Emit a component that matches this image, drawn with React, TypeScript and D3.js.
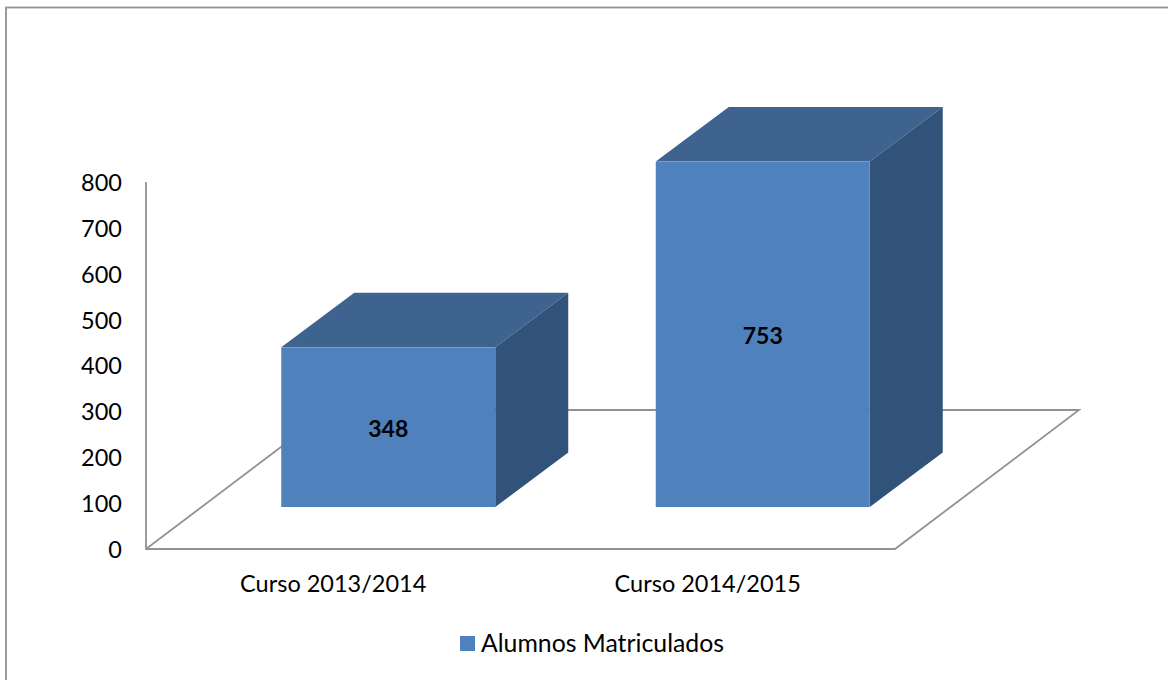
import React from "react";
import * as d3 from "d3";

const categories = ["Curso 2013/2014", "Curso 2014/2015"];
const values = [348, 753];
const ticks = [0, 100, 200, 300, 400, 500, 600, 700, 800];
const seriesName = "Alumnos Matriculados";

const W = 1168;
const H = 680;
const FONT = "Lato, sans-serif";
const AXIS = "#929292";
const DEPTH_X = 73;
const DEPTH_Y = 54.5;
const BAR_W = 214;

export default function App() {
  const yAxis = d3.scaleLinear().domain([0, 800]).range([549, 182]);
  const yFront = d3.scaleLinear().domain([0, 800]).range([507, 140]);
  const xBand = d3.scaleBand<string>().domain(categories).range([146, 895]);

  const bars = categories.map((c, i) => {
    const center = (xBand(c) as number) + xBand.bandwidth() / 2 + 55;
    const x0 = center - BAR_W / 2;
    return { c, v: values[i], x0, x1: x0 + BAR_W, y0: yFront(values[i]), y1: yFront(0) };
  });
  const pts = (p: number[][]) => p.map((q) => q.join(",")).join(" ");

  return (
    <svg
      width={W}
      height={H}
      viewBox={`0 0 ${W} ${H}`}
      style={{ position: "absolute", left: 0, top: 0, background: "#fff" }}
      fontFamily={FONT}
    >
      <rect x={6} y={7.5} width={W + 20} height={H + 20} fill="#fff" stroke={AXIS} strokeWidth={1.8} />

      {/* floor and wall */}
      <polyline
        points={pts([[146, 182], [146, 549], [895, 549], [1079, 410], [330, 410], [146, 549]])}
        fill="none"
        stroke={AXIS}
        strokeWidth={1.8}
      />

      {ticks.map((t) => (
        <text key={t} x={122} y={yAxis(t) + 0.5} dy="0.36em" textAnchor="end" fontSize={23.5} fill="#000">
          {t}
        </text>
      ))}

      {bars.map((b) => (
        <g key={b.c}>
          <polygon
            points={pts([[b.x0, b.y0], [b.x0 + DEPTH_X, b.y0 - DEPTH_Y], [b.x1 + DEPTH_X, b.y0 - DEPTH_Y], [b.x1, b.y0]])}
            fill="#3e638f"
          />
          <polygon
            points={pts([[b.x1, b.y0], [b.x1 + DEPTH_X, b.y0 - DEPTH_Y], [b.x1 + DEPTH_X, b.y1 - DEPTH_Y], [b.x1, b.y1]])}
            fill="#325379"
          />
          <rect x={b.x0} y={b.y0} width={b.x1 - b.x0} height={b.y1 - b.y0} fill="#4f81bd" />
          <text
            x={(b.x0 + b.x1) / 2}
            y={(b.y0 + b.y1) / 2 + 1.5}
            dy="0.36em"
            textAnchor="middle"
            fontSize={23}
            fontWeight={700}
            fill="#000"
          >
            {b.v}
          </text>
        </g>
      ))}

      {categories.map((c) => (
        <text key={c} x={(xBand(c) as number) + xBand.bandwidth() / 2} y={592} textAnchor="middle" fontSize={23.5} fill="#000">
          {c}
        </text>
      ))}

      <rect x={460} y={636} width={15} height={15} fill="#4f81bd" />
      <text x={481} y={651.5} fontSize={24.8} fill="#000">
        {seriesName}
      </text>
    </svg>
  );
}
